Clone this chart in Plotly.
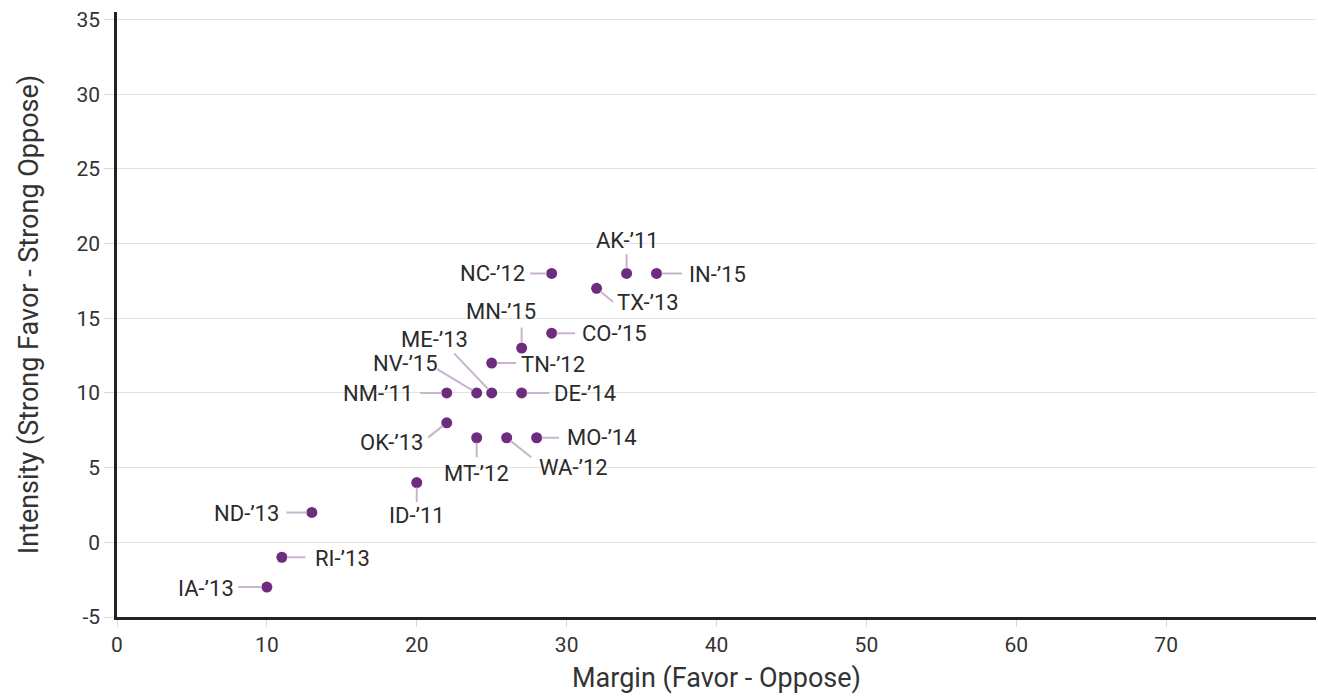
import plotly.graph_objects as go

# ---- data ----
labels = ["IA-’13", "RI-’13", "ND-’13", "ID-’11", "OK-’13", "MT-’12", "WA-’12", "MO-’14",
          "NM-’11", "NV-’15", "ME-’13", "DE-’14", "TN-’12", "MN-’15", "CO-’15", "NC-’12",
          "TX-’13", "AK-’11", "IN-’15"]
margin_vals = [10, 11, 13, 20, 22, 24, 26, 28, 22, 24, 25, 27, 25, 27, 29, 29, 32, 34, 36]
intensity_vals = [-3, -1, 2, 4, 8, 7, 7, 7, 10, 10, 10, 10, 12, 13, 14, 18, 17, 18, 18]

x_ticks = [0, 10, 20, 30, 40, 50, 60, 70]
y_ticks = [-5, 0, 5, 10, 15, 20, 25, 30, 35]

# ---- label layout (pixel offsets from each point) ----
# leader line end (dx, dy) ; screen y downwards
leader_end = {
    "IA-’13": (-29, 0), "RI-’13": (24, 0), "ND-’13": (-26, 0), "ID-’11": (0, 20),
    "OK-’13": (-19, 15), "MT-’12": (0, 20), "WA-’12": (25, 20), "MO-’14": (23, 0),
    "NM-’11": (-27, 0), "NV-’15": (-40, -24), "ME-’13": (-38, -40), "DE-’14": (28, 0),
    "TN-’12": (25, 0), "MN-’15": (0, -21), "CO-’15": (24, 0), "NC-’12": (-22, 0),
    "TX-’13": (17, 14), "AK-’11": (0, -20), "IN-’15": (26, 0),
}
# text placement: (dx, dy, xanchor) ; dy is text centre offset (screen y downwards)
text_pos = {
    "IA-’13": (-31, 1, "right"), "RI-’13": (31, 1, "left"), "ND-’13": (-31, 1, "right"),
    "ID-’11": (0, 33, "center"), "OK-’13": (-55, 20, "center"), "MT-’12": (0, 36, "center"),
    "WA-’12": (67, 30, "center"), "MO-’14": (28, 0, "left"), "NM-’11": (-32, 1, "right"),
    "NV-’15": (-71, -29, "center"), "ME-’13": (-57, -53, "center"), "DE-’14": (30, 1, "left"),
    "TN-’12": (27, 1, "left"), "MN-’15": (-21, -37, "center"), "CO-’15": (28, 0, "left"),
    "NC-’12": (-25, 0, "right"), "TX-’13": (51, 14, "center"), "AK-’11": (1, -33, "center"),
    "IN-’15": (30, 1, "left"),
}

FONT = "Roboto, Liberation Sans, sans-serif"
DOT = "#6e2c7e"
LEADER = "#c8b4cf"
TXT = "#2b2b2b"

fig = go.Figure()

annotations = []
for lab, xv, yv in zip(labels, margin_vals, intensity_vals):
    lx, ly = leader_end[lab]
    annotations.append(dict(
        x=xv, y=yv, xref="x", yref="y", text="",
        showarrow=True, arrowhead=0, arrowwidth=2, arrowcolor=LEADER,
        ax=lx, ay=ly, axref="pixel", ayref="pixel",
        standoff=5, startstandoff=0, borderpad=0,
    ))
    tx, ty, xa = text_pos[lab]
    annotations.append(dict(
        x=xv, y=yv, xref="x", yref="y", text=lab, showarrow=False,
        xshift=tx, yshift=-ty, xanchor=xa, yanchor="middle",
        font=dict(family=FONT, size=22, color=TXT),
    ))

fig.add_trace(go.Scatter(
    x=margin_vals, y=intensity_vals, mode="markers",
    marker=dict(color=DOT, size=11, line=dict(width=0)),
    hoverinfo="text", text=labels, showlegend=False, cliponaxis=False,
))

fig.update_layout(
    width=1318, height=698,
    margin=dict(l=117, r=2, t=12, b=81),
    paper_bgcolor="white", plot_bgcolor="white",
    font=dict(family=FONT, size=21, color="#333333"),
    annotations=annotations,
    xaxis=dict(
        range=[0, 80], tickvals=x_ticks, ticktext=[str(v) for v in x_ticks],
        showgrid=False, zeroline=False, automargin=False,
        showline=True, linecolor="#222222", linewidth=2.5,
        ticks="outside", ticklen=7, tickcolor="#d8d8d8", tickwidth=1,
        ticklabeloverflow="allow",
        tickfont=dict(family=FONT, size=21, color="#333333"),
        title=dict(text="Margin (Favor - Oppose)", font=dict(family=FONT, size=27, color="#333333"), standoff=13),
    ),
    yaxis=dict(
        range=[-5, 35.5], tickvals=y_ticks, ticktext=[str(v) for v in y_ticks],
        showgrid=True, gridcolor="#e2e2e2", gridwidth=1, zeroline=False, automargin=False,
        showline=True, linecolor="#222222", linewidth=2.5,
        ticks="outside", ticklen=10, tickcolor="#d8d8d8", tickwidth=1,
        ticklabeloverflow="allow",
        tickfont=dict(family=FONT, size=21, color="#333333"),
        title=dict(text="Intensity (Strong Favor - Strong Oppose)", font=dict(family=FONT, size=27, color="#333333"), standoff=30),
    ),
)

fig.write_html(
    "out.html",
    config={"displayModeBar": False},
    post_script="document.body.style.margin='0';document.body.style.overflow='hidden';",
)
